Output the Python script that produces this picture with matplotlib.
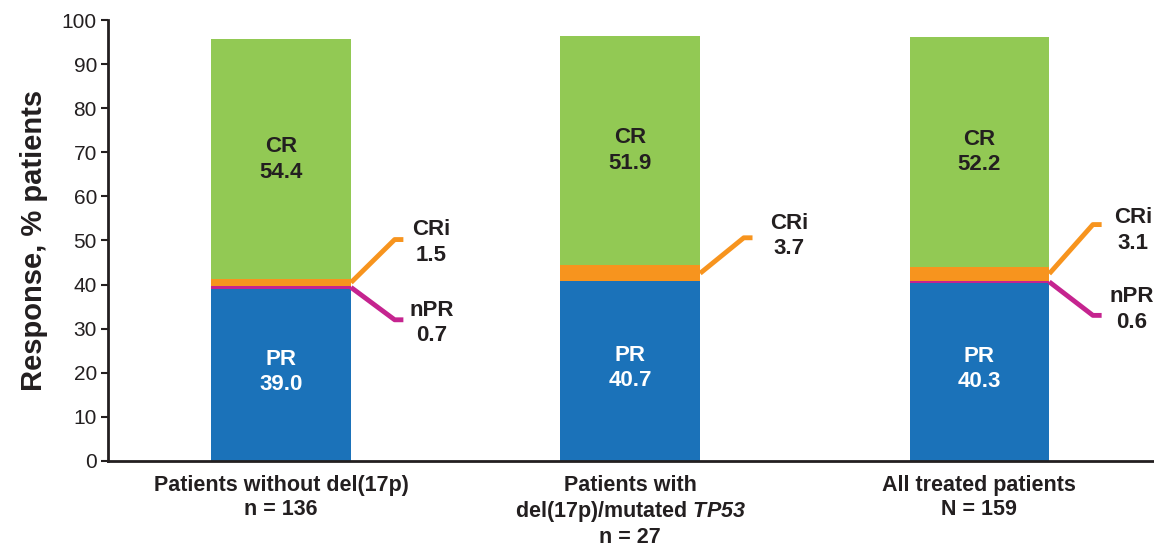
import matplotlib.pyplot as plt
import numpy as np

plt.rcParams['font.family'] = ['Liberation Sans', 'DejaVu Sans']
plt.rcParams['mathtext.fontset'] = 'custom'
plt.rcParams['mathtext.it'] = 'Liberation Sans:bold:italic'
plt.rcParams['mathtext.rm'] = 'Liberation Sans:bold:italic'

groups = ['Patients without del(17p)\nn = 136',
          'Patients with\ndel(17p)/mutated $\\mathit{TP53}$\nn = 27',
          'All treated patients\nN = 159']
pr = [39.0, 40.7, 40.3]
npr = [0.7, 0.0, 0.6]
cri = [1.5, 3.7, 3.1]
cr = [54.4, 51.9, 52.2]

c_pr = '#1b72b9'
c_npr = '#c5248f'
c_cri = '#f7941e'
c_cr = '#92c954'
ink = '#231f20'

fig = plt.figure(figsize=(11.54, 5.48), dpi=100)
ax = fig.add_axes([0.0936, 0.159, 0.9064, 0.8045])

x = np.arange(len(groups))
w = 0.4
pr_a = np.array(pr)
npr_a = np.array(npr)
cri_a = np.array(cri)
cr_a = np.array(cr)

ax.bar(x, pr_a, w, color=c_pr)
ax.bar(x, npr_a, w, bottom=pr_a, color=c_npr)
ax.bar(x, cri_a, w, bottom=pr_a + npr_a, color=c_cri)
ax.bar(x, cr_a, w, bottom=pr_a + npr_a + cri_a, color=c_cr)

fs = 16
ls = 1.28
# labels inside bars
for i in range(len(x)):
    ax.text(x[i], pr[i] / 2 + 0.7, 'PR\n%.1f' % pr[i], ha='center', va='center',
            color='white', fontsize=fs, fontweight='bold', linespacing=ls)
    base = pr[i] + npr[i] + cri[i]
    ax.text(x[i], base + cr[i] / 2, 'CR\n%.1f' % cr[i], ha='center', va='center',
            color=ink, fontsize=fs, fontweight='bold', linespacing=ls)

# leader lines for small segments
edge = w / 2
cri_end = [50.2, 50.6, 53.6]
cri_txt = [(0.43, 49.5), (0.455, 51.0), (0.44, 52.2)]
npr_end = [32.0, None, 33.0]
npr_txt = [(0.43, 31.3), None, (0.435, 34.3)]
for i in range(len(x)):
    start = pr[i] + npr[i] + cri[i] / 2
    ax.plot([x[i] + edge, x[i] + edge + 0.125, x[i] + edge + 0.15],
            [start, cri_end[i], cri_end[i]], color=c_cri, lw=3.5,
            solid_capstyle='butt', clip_on=False)
    ax.text(x[i] + cri_txt[i][0], cri_txt[i][1], 'CRi\n%.1f' % cri[i], ha='center',
            va='center', color=ink, fontsize=fs, fontweight='bold', linespacing=ls)
    if npr_end[i] is not None:
        start = pr[i] + npr[i] / 2
        ax.plot([x[i] + edge, x[i] + edge + 0.125, x[i] + edge + 0.15],
                [start, npr_end[i], npr_end[i]], color=c_npr, lw=3.5,
                solid_capstyle='butt', clip_on=False)
        ax.text(x[i] + npr_txt[i][0], npr_txt[i][1], 'nPR\n%.1f' % npr[i], ha='center',
                va='center', color=ink, fontsize=fs, fontweight='bold', linespacing=ls)

ax.set_xlim(-0.496, 2.5)
ax.set_ylim(0, 100)
ax.set_yticks(range(0, 101, 10))
ax.set_xticks(x)
ax.set_xticklabels(groups, fontsize=15.5, fontweight='bold', color=ink, linespacing=1.18)
ax.tick_params(axis='x', length=0, pad=10)
ax.tick_params(axis='y', labelsize=15, colors=ink, length=5, width=1.5, pad=3)
ax.set_ylabel('Response, % patients', fontsize=21, fontweight='bold', color=ink, labelpad=10)

for s in ['top', 'right']:
    ax.spines[s].set_visible(False)
for s in ['left', 'bottom']:
    ax.spines[s].set_color(ink)
    ax.spines[s].set_linewidth(2)

fig.savefig('out.png', dpi=100)
